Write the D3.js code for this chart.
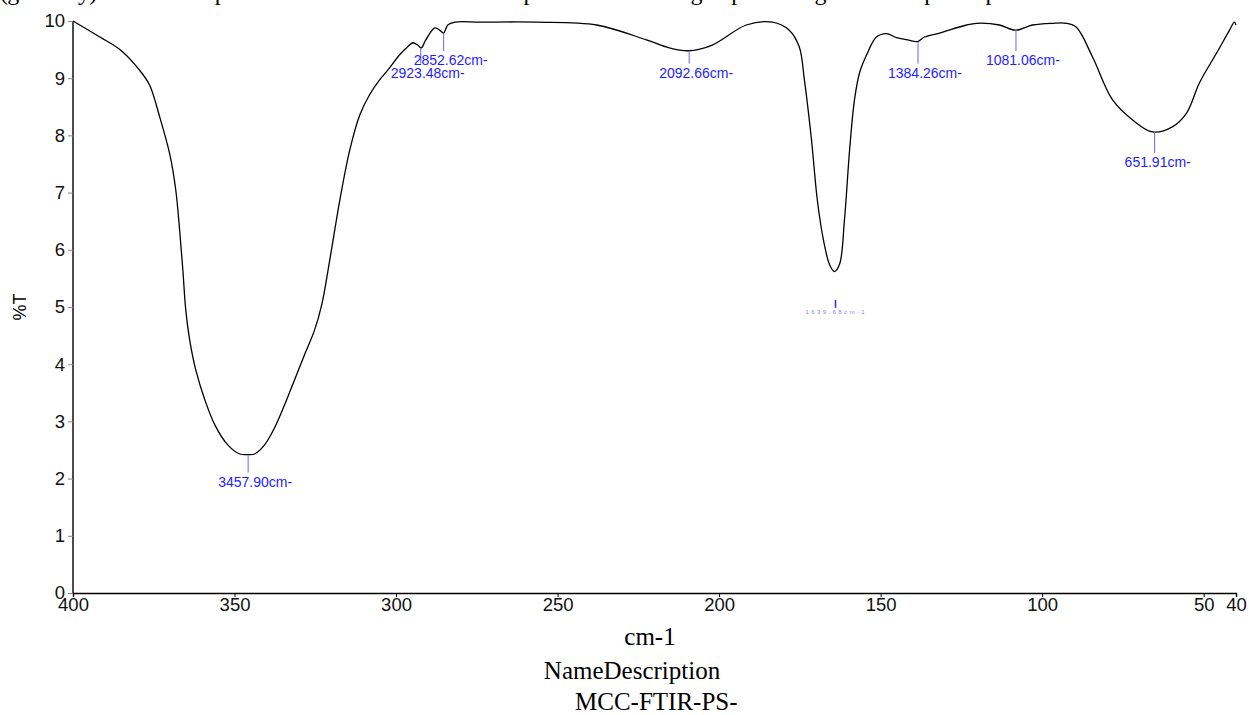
<!DOCTYPE html>
<html>
<head>
<meta charset="utf-8">
<script src="https://cdn.jsdelivr.net/npm/d3@7"></script>
<style>
  body { margin: 0; background: #fff; }
  svg { display: block; }
</style>
</head>
<body>
<script>
// spectrum (axis units = cm-1 / 10)
var wavenumber = [400, 391.7, 385.5, 379.4, 376.3, 373.2, 370.0, 368.2, 367.0, 366.0, 365.1, 363.9, 362.0, 359.2,
  356.1, 352.1, 348.4, 345.9, 343.8, 340.7, 337.6, 334.5, 331.4, 328.3, 325.2, 323.0, 320.5, 317.4, 314.3, 311.2,
  308.2, 305.1, 302.0, 298.9, 296.4, 294.8, 293.3, 292.2, 290.8, 288.0, 286.5, 285.3, 284.0, 281.8, 274.1, 256.5,
  237.9, 222.5, 215.4, 209.5, 202.1, 191.6, 183.5, 178.3, 175.2, 173.6, 171.4, 169.6, 167.7, 165.8, 164.3, 162.7,
  161.2, 159.6, 158.1, 156.5, 154.4, 151.3, 148.2, 145.1, 141.7, 138.6, 136.4, 131.8, 123.4, 120.3, 113.2, 108.3,
  103.0, 96.8, 92.5, 89.4, 84.4, 78.2, 72.0, 65.8, 59.7, 55.3, 51.3, 46.0, 42.0, 40.5, 40];
var transmittance = [10.0, 9.72, 9.50, 9.14, 8.88, 8.33, 7.66, 7.05, 6.35, 5.65, 4.95, 4.43, 3.90, 3.38,
  2.94, 2.59, 2.43, 2.42, 2.43, 2.59, 2.89, 3.29, 3.73, 4.17, 4.60, 5.04, 5.83, 6.87, 7.75, 8.36,
  8.71, 8.97, 9.18, 9.41, 9.55, 9.62, 9.58, 9.53, 9.67, 9.88, 9.84, 9.79, 9.93, 9.98, 9.98, 9.98,
  9.93, 9.67, 9.53, 9.48, 9.58, 9.93, 9.98, 9.84, 9.55, 8.97, 7.92, 6.87, 6.17, 5.74, 5.62, 5.75,
  6.52, 7.75, 8.62, 9.10, 9.40, 9.72, 9.78, 9.71, 9.67, 9.64, 9.72, 9.79, 9.93, 9.96, 9.93, 9.84,
  9.93, 9.96, 9.96, 9.89, 9.37, 8.62, 8.27, 8.06, 8.15, 8.39, 8.92, 9.44, 9.84, 9.98, 9.93];

// picked peaks
var peakWavenumber = [345.79, 292.348, 285.262, 209.266, 163.968, 138.426, 108.106, 65.191];
var peakTransmittance = [2.42, 9.53, 9.79, 9.48, 5.62, 9.64, 9.84, 8.06];
var peakLabels = ["3457.90cm-", "2923.48cm-", "2852.62cm-", "2092.66cm-", "1639.68cm-1",
  "1384.26cm-", "1081.06cm-", "651.91cm-"];

var xTicks = [400, 350, 300, 250, 200, 150, 100, 50, 40];
var yTicks = [0, 1, 2, 3, 4, 5, 6, 7, 8, 9, 10];

// label layout (text baseline level in %T, font size, tick length in px)
var labelLevel = [1.86, 9.01, 9.23, 9.01, 4.88, 9.01, 9.23, 7.45];
var labelSize = [14, 14, 14, 14, 6, 14, 14, 14];
var tickLength = [18, 16, 18, 13, 8, 22, 21, 21];

var W = 1249, H = 715;
var margin = { top: 21, right: 13, bottom: 122, left: 73 },
  width = W - margin.left - margin.right,
  height = H - margin.top - margin.bottom;

var svg = d3.select("body").append("svg")
  .attr("width", W)
  .attr("height", H);

// cut-off caption line from the page above the chart
svg.append("text")
  .attr("x", 0)
  .attr("y", 0)
  .attr("textLength", 1065)
  .attr("lengthAdjust", "spacing")
  .style("font-family", "'Liberation Serif', 'Times New Roman', serif")
  .style("font-size", "24px")
  .text("(generally) and then the peak values shown in which correspond to functional groups existing in the compound peak list.");

var g = svg.append("g")
  .attr("transform", "translate(" + margin.left + "," + margin.top + ")");

var x = d3.scaleLinear().domain([400, 40]).range([0, width]);
var y = d3.scaleLinear().domain([0, 10]).range([height, 0]);

// x axis
var xAxis = g.append("g")
  .attr("transform", "translate(0," + height + ")")
  .call(d3.axisBottom(x).tickValues(xTicks).tickSize(4).tickFormat(d3.format("d")));
xAxis.select(".domain").attr("stroke", "#000").attr("stroke-width", 1.4);
xAxis.selectAll(".tick line").attr("stroke", "#000");
xAxis.selectAll(".tick text")
  .attr("y", 5)
  .attr("dy", "0.71em")
  .style("font-family", "'Liberation Sans', Arial, sans-serif")
  .style("font-size", "18.5px")
  .attr("fill", "#111");

// y axis
var yAxis = g.append("g")
  .call(d3.axisLeft(y).tickValues(yTicks).tickSize(5).tickPadding(3).tickFormat(d3.format("d")));
yAxis.select(".domain").attr("stroke", "#000").attr("stroke-width", 1.4).attr("d", "M0," + height + "V0");
yAxis.selectAll(".tick line").attr("stroke", "#888");
yAxis.selectAll(".tick text")
  .style("font-family", "'Liberation Sans', Arial, sans-serif")
  .style("font-size", "18.5px")
  .attr("fill", "#111");

// axis titles
svg.append("text")
  .attr("transform", "translate(26," + (margin.top + y(5)) + ") rotate(-90)")
  .attr("text-anchor", "middle")
  .style("font-family", "'Liberation Sans', Arial, sans-serif")
  .style("font-size", "18px")
  .text("%T");

var serif = "'Liberation Serif', 'Times New Roman', serif";
svg.append("text")
  .attr("x", 650).attr("y", 645)
  .attr("text-anchor", "middle")
  .style("font-family", serif).style("font-size", "25px")
  .text("cm-1");
svg.append("text")
  .attr("x", 632).attr("y", 679)
  .attr("text-anchor", "middle")
  .style("font-family", serif).style("font-size", "25px")
  .text("NameDescription");
svg.append("text")
  .attr("x", 575).attr("y", 710)
  .style("font-family", serif).style("font-size", "25px")
  .text("MCC-FTIR-PS-");

// spectrum line
var spectrum = wavenumber.map(function (d, i) {
  return { w: d, t: transmittance[i] };
});
var valueline = d3.line()
  .x(function (d) { return x(d.w); })
  .y(function (d) { return y(d.t); })
  .curve(d3.curveCatmullRom.alpha(0.5));

g.append("path")
  .datum(spectrum)
  .attr("fill", "none")
  .attr("stroke", "#000")
  .attr("stroke-width", 1.3)
  .attr("d", valueline);

// peak markers
peakWavenumber.forEach(function (p, i) {
  var px = x(p);
  var base = y(labelLevel[i]);
  var tickEnd = base - labelSize[i];
  var small = labelSize[i] < 10;
  g.append("line")
    .attr("x1", px).attr("x2", px)
    .attr("y1", tickEnd - tickLength[i]).attr("y2", tickEnd)
    .attr("stroke", small ? "#2a2aff" : "#6464ff")
    .attr("stroke-width", small ? 1.5 : 1);
  g.append("text")
    .attr("x", px - 30)
    .attr("y", base)
    .style("font-family", "'Liberation Sans', Arial, sans-serif")
    .style("font-size", labelSize[i] + "px")
    .style("letter-spacing", small ? "2.4px" : "0px")
    .attr("fill", small ? "#7f7fff" : "#1e1eff")
    .text(peakLabels[i]);
});
</script>
</body>
</html>
